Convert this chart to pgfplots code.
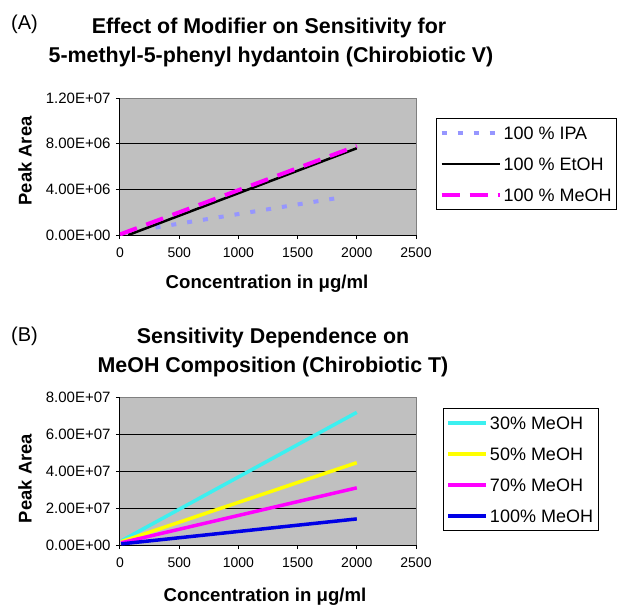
\documentclass[border=0pt]{standalone}
\usepackage{fontspec}
\setmainfont{Liberation Sans}
\usepackage{pgfplots}
\pgfplotsset{compat=1.18}

\definecolor{plotgray}{RGB}{192,192,192}
\definecolor{ipa}{RGB}{150,150,255}
\definecolor{mag}{RGB}{255,0,255}
\definecolor{cyanl}{RGB}{60,240,240}
\definecolor{yel}{RGB}{255,255,0}
\definecolor{blu}{RGB}{0,0,230}

\pgfplotsset{
  excel/.style={
    scale only axis,
    xmin=0, xmax=2500,
    xtick={0,500,1000,1500,2000,2500},
    xticklabels={0,500,1000,1500,2000,2500},
    scaled y ticks=false,
    axis x line*=bottom, axis y line*=left,
    axis line style={black, line width=1pt, -},
    axis background/.style={fill=plotgray, draw=gray, line width=1pt},
    tick align=outside, major tick length=4pt,
    tick style={black, line width=1pt},
    extra y tick style={grid=major, major tick length=0pt},
    grid style={black, line width=1pt},
    xticklabel style={font=\fontsize{14}{16}\selectfont, yshift=-5pt},
    yticklabel style={font=\fontsize{15}{17}\selectfont, xshift=-2pt},
    /pgf/number format/assume math mode=true,
    legend cell align=left,
    legend style={draw=black, fill=white, line width=1pt,
      font=\fontsize{18}{20}\selectfont, row sep=14pt,
      inner xsep=3pt, inner ysep=6pt,
      nodes={text height=13pt, text depth=0pt, inner sep=2pt}},
  },
}

\begin{document}
\begin{tikzpicture}
\useasboundingbox (0pt,0pt) rectangle (619pt,-605pt);

% ---- panel A ----
\node[anchor=base west, inner sep=0pt, font=\fontsize{20}{22}\selectfont] at (11pt,-29pt) {(A)};
\node[anchor=base, font=\bfseries\fontsize{21.4}{24}\selectfont] at (269pt,-33pt) {Effect of Modifier on Sensitivity for};
\node[anchor=base, font=\bfseries\fontsize{21.4}{24}\selectfont] at (271pt,-62pt) {5-methyl-5-phenyl hydantoin (Chirobiotic V)};
\node[anchor=base, font=\bfseries\fontsize{18.6}{20}\selectfont] at (267pt,-288pt) {Concentration in μg/ml};
\node[anchor=base, rotate=90, font=\bfseries\fontsize{18.4}{20}\selectfont] at (31.5pt,-161pt) {Peak Area};

\begin{axis}[excel,
  at={(120pt,-235pt)}, anchor=south west,
  width=296pt, height=137pt,
  ymin=0, ymax=1.2e7,
  ytick={0,4e6,8e6,1.2e7},
  yticklabels={0.00E+00,4.00E+06,8.00E+06,1.20E+07},
  extra y ticks={4e6,8e6}, extra y tick labels={},
  legend style={at={(1.0676,0.854)}, anchor=north west},
  legend image code/.code={\draw[#1] (0pt,0pt) -- (58pt,0pt);},
]
\addplot[ipa, line width=4pt, dash pattern=on 5pt off 11pt] coordinates {(300,6.6e5) (1890,3.33e6)};
\addlegendentry{100 \% IPA}
\addplot[black, line width=2.5pt] coordinates {(70,0) (2000,7.6e6)};
\addlegendentry{100 \% EtOH}
\addplot[mag, line width=4pt, dash pattern=on 18pt off 10pt] coordinates {(0,5e4) (2000,7.8e6)};
\addlegendentry{100 \% MeOH}
\end{axis}

% ---- panel B ----
\node[anchor=base west, inner sep=0pt, font=\fontsize{20}{22}\selectfont] at (11pt,-341pt) {(B)};
\node[anchor=base, font=\bfseries\fontsize{21.4}{24}\selectfont] at (273pt,-343pt) {Sensitivity Dependence on};
\node[anchor=base, font=\bfseries\fontsize{21.4}{24}\selectfont] at (273pt,-372pt) {MeOH Composition (Chirobiotic T)};
\node[anchor=base, font=\bfseries\fontsize{18.6}{20}\selectfont] at (265pt,-601pt) {Concentration in μg/ml};
\node[anchor=base, rotate=90, font=\bfseries\fontsize{18.4}{20}\selectfont] at (31.5pt,-478.5pt) {Peak Area};

\begin{axis}[excel,
  at={(120pt,-545pt)}, anchor=south west,
  width=296pt, height=148pt,
  ymin=0, ymax=8e7,
  ytick={0,2e7,4e7,6e7,8e7},
  yticklabels={0.00E+00,2.00E+07,4.00E+07,6.00E+07,8.00E+07},
  extra y ticks={2e7,4e7,6e7}, extra y tick labels={},
  legend style={at={(1.0912,0.926)}, anchor=north west},
  legend image code/.code={\draw[#1] (0pt,0pt) -- (38pt,0pt);},
]
\addplot[cyanl, line width=3.5pt] coordinates {(10,2.2e6) (2000,7.17e7)};
\addlegendentry{30\% MeOH}
\addplot[yel, line width=3.5pt] coordinates {(10,1.8e6) (2000,4.45e7)};
\addlegendentry{50\% MeOH}
\addplot[mag, line width=3.5pt] coordinates {(10,1.2e6) (2000,3.09e7)};
\addlegendentry{70\% MeOH}
\addplot[blu, line width=3.5pt] coordinates {(10,6e5) (2000,1.41e7)};
\addlegendentry{100\% MeOH}
\end{axis}
\end{tikzpicture}
\end{document}
